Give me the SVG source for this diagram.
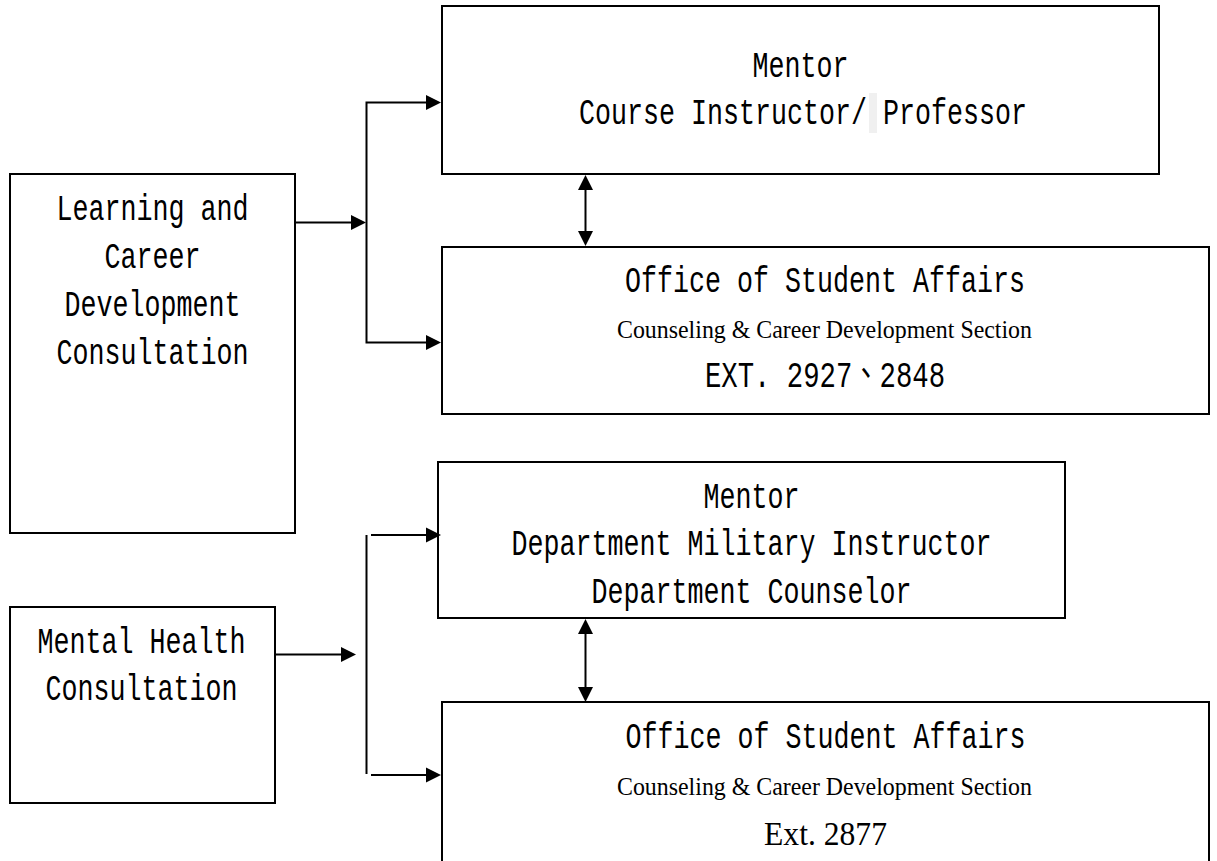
<svg xmlns="http://www.w3.org/2000/svg" width="1217" height="861" viewBox="0 0 1217 861">
<style>
.box{fill:#fff;stroke:#000;stroke-width:2}
.mono{font-family:"Liberation Mono","Noto Sans CJK TC",monospace;font-size:37px;fill:#000;text-anchor:middle}
.serif{font-family:"Liberation Serif","Noto Sans CJK TC",serif;fill:#000;text-anchor:middle}
.ln{fill:none;stroke:#000;stroke-width:2}
.arr{marker-end:url(#ah)}
.both{marker-start:url(#ah);marker-end:url(#ah)}
</style>
<defs>
<marker id="ah" markerUnits="userSpaceOnUse" markerWidth="16" markerHeight="16" viewBox="0 0 16 16" refX="5" refY="8" orient="auto-start-reverse">
<path d="M0,0.5 L15,8 L0,15.5 Z" fill="#000"/>
</marker>
</defs>
<rect width="1217" height="861" fill="#fff"/>
<g id="learning">
<rect class="box" x="10" y="174" width="285" height="359"/>
<text class="mono" x="152.5" y="220" textLength="192" lengthAdjust="spacingAndGlyphs">Learning and</text>
<text class="mono" x="152.5" y="268" textLength="96" lengthAdjust="spacingAndGlyphs">Career</text>
<text class="mono" x="152.5" y="316" textLength="176" lengthAdjust="spacingAndGlyphs">Development</text>
<text class="mono" x="152.5" y="364" textLength="192" lengthAdjust="spacingAndGlyphs">Consultation</text>
</g>
<g id="mentor1">
<rect class="box" x="442" y="6" width="717" height="168"/>
<rect x="869" y="93" width="8" height="40" fill="#f0f0f0"/>
<text class="mono" x="800.5" y="77" textLength="96" lengthAdjust="spacingAndGlyphs">Mentor</text>
<text class="mono" x="803" y="124" textLength="448" lengthAdjust="spacingAndGlyphs">Course Instructor/ Professor</text>
</g>
<g id="office1">
<rect class="box" x="442" y="247" width="767" height="167"/>
<text class="mono" x="825" y="291.5" textLength="400" lengthAdjust="spacingAndGlyphs">Office of Student Affairs</text>
<text class="serif" x="824.5" y="338" font-size="25" textLength="415" lengthAdjust="spacingAndGlyphs">Counseling &amp; Career Development Section</text>
<text class="mono" x="825" y="387" textLength="240" lengthAdjust="spacingAndGlyphs">EXT. 2927、2848</text>
</g>
<g id="mental">
<rect class="box" x="10" y="607" width="265" height="196"/>
<text class="mono" x="141.5" y="653" textLength="208" lengthAdjust="spacingAndGlyphs">Mental Health</text>
<text class="mono" x="141.5" y="700" textLength="192" lengthAdjust="spacingAndGlyphs">Consultation</text>
</g>
<g id="mentor2">
<rect class="box" x="438" y="462" width="627" height="156"/>
<text class="mono" x="751.5" y="508" textLength="96" lengthAdjust="spacingAndGlyphs">Mentor</text>
<text class="mono" x="751.5" y="555" textLength="480" lengthAdjust="spacingAndGlyphs">Department Military Instructor</text>
<text class="mono" x="751.5" y="603" textLength="320" lengthAdjust="spacingAndGlyphs">Department Counselor</text>
</g>
<g id="office2">
<rect class="box" x="442" y="702" width="767" height="175"/>
<text class="mono" x="825.5" y="748" textLength="400" lengthAdjust="spacingAndGlyphs">Office of Student Affairs</text>
<text class="serif" x="824.5" y="795" font-size="25" textLength="415" lengthAdjust="spacingAndGlyphs">Counseling &amp; Career Development Section</text>
<text class="serif" x="825.5" y="845" font-size="33" textLength="123" lengthAdjust="spacingAndGlyphs">Ext. 2877</text>
</g>
<g id="connectors">
<path class="ln arr" d="M295,222.5 H356"/>
<path class="ln both" d="M431,102.5 H366.5 V342.5 H431"/>
<path class="ln both" d="M585.5,185 V236"/>
<path class="ln arr" d="M275,654.5 H346"/>
<path class="ln" d="M366.5,535 V774"/>
<path class="ln arr" d="M371,535 H431"/>
<path class="ln arr" d="M371,775 H431"/>
<path class="ln both" d="M585.5,629 V692"/>
</g>
</svg>
